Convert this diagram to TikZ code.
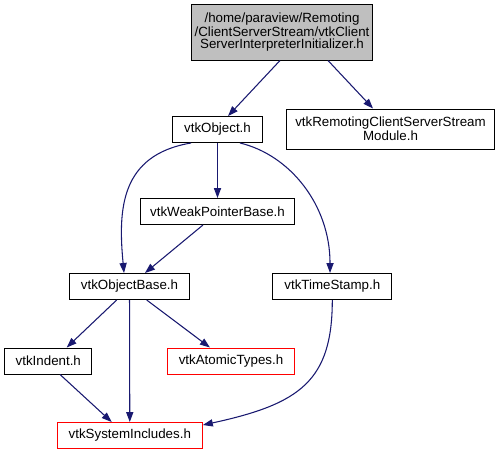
\documentclass[tikz,border=0pt]{standalone}
\usepackage{fontspec}
\setmainfont{Liberation Sans}
\definecolor{edgeblue}{RGB}{25,25,112}
\definecolor{rootgray}{RGB}{191,191,191}
\usetikzlibrary{arrows.meta}

\begin{document}
\begin{tikzpicture}[x=0.75pt,y=-0.75pt,
  hdr/.style={draw=black,line width=0.75pt,inner xsep=2pt,inner ysep=1pt,minimum height=19.5pt,
    font=\fontsize{10}{9}\selectfont,align=center},
  missing/.style={hdr,draw=red},
  dep/.style={-{Triangle[length=7.5pt,width=5.4pt]},edgeblue,line width=0.8pt}]
  \useasboundingbox (0,0) rectangle (501,455);
  % headers
  \node[hdr,fill=rootgray,minimum width=102pt,minimum height=42pt] (root) at (282,32)
    {/home/paraview/Remoting\\/ClientServerStream/vtkClient\\ServerInterpreterInitializer.h};
  \node[hdr,minimum width=66.8pt] (obj) at (217.5,129.5) {vtkObject.h};
  \node[hdr,minimum width=155.3pt,minimum height=30pt] (rem) at (390.5,129)
    {vtkRemotingClientServerStream\\Module.h};
  \node[hdr,minimum width=115.2pt] (weak) at (217.5,211.5) {vtkWeakPointerBase.h};
  \node[hdr,minimum width=89.3pt] (ob) at (129.5,286.5) {vtkObjectBase.h};
  \node[hdr,minimum width=89.5pt] (ts) at (332.3,286.5) {vtkTimeStamp.h};
  \node[hdr,minimum width=65.5pt] (indent) at (48.3,361) {vtkIndent.h};
  \node[missing,minimum width=95.5pt] (atomic) at (231,361) {vtkAtomicTypes.h};
  \node[missing,minimum width=108.8pt] (si) at (129.8,435.5) {vtkSystemIncludes.h};
  % includes
  \draw[dep] ([xshift=-1.5pt]root.south) -- ([xshift=7.9pt]obj.north);
  \draw[dep] ([xshift=34.5pt]root.south) -- ([xshift=-13.1pt]rem.north);
  \draw[dep] ([xshift=-19.9pt]obj.south) .. controls +(-71,12) and +(-6,-63) .. ([xshift=-4.1pt]ob.north);
  \draw[dep] (obj) -- (weak);
  \draw[dep] ([xshift=16.9pt]obj.south) .. controls +(50,12) and +(0,-68) .. ([xshift=-1.7pt]ts.north);
  \draw[dep] ([xshift=-10.9pt]weak.south) -- ([xshift=11.6pt]ob.north);
  \draw[dep] ([xshift=-9.6pt]ob.south) -- ([xshift=13.8pt]indent.north);
  \draw[dep] (ob) -- (si);
  \draw[dep] ([xshift=12.9pt]ob.south) -- ([xshift=-15.8pt]atomic.north);
  \draw[dep] ([xshift=8.8pt]indent.south) -- ([xshift=-13.6pt]si.north);
  \draw[dep] (ts.south) .. controls +(0,81) and +(97,-21) .. ([yshift=-2.25pt]si.north east);
\end{tikzpicture}
\end{document}
